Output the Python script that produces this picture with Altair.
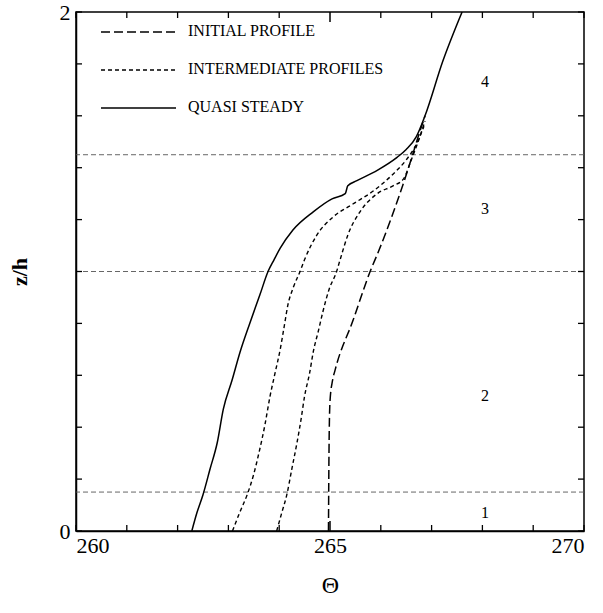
import altair as alt
import pandas as pd

# ---- data ----
quasi_theta = [262.28, 262.38, 262.50, 262.64, 262.78, 262.90, 263.07, 263.23, 263.42, 263.62,
               263.78, 263.90, 264.02, 264.27, 264.67, 265.04, 265.30, 265.35, 265.53, 265.93,
               266.32, 266.50, 266.70, 266.87, 267.22, 267.60]
quasi_z = [0.00, 0.07, 0.14, 0.24, 0.34, 0.47, 0.58, 0.69, 0.80, 0.91,
           1.00, 1.046, 1.09, 1.16, 1.23, 1.28, 1.30, 1.33, 1.35, 1.39,
           1.44, 1.47, 1.52, 1.60, 1.81, 2.00]

inter1_theta = [263.08, 263.22, 263.37, 263.50, 263.60, 263.72, 263.82, 263.92, 264.02, 264.10,
                264.17, 264.28, 264.41, 264.50, 264.74, 265.06, 265.45, 265.85, 266.24, 266.50,
                266.70, 266.85]
inter1_z = [0.00, 0.07, 0.14, 0.22, 0.30, 0.41, 0.52, 0.61, 0.70, 0.79,
            0.87, 0.94, 1.00, 1.046, 1.14, 1.21, 1.26, 1.31, 1.375, 1.43,
            1.49, 1.56]

inter2_theta = [263.95, 264.05, 264.15, 264.25, 264.35, 264.43, 264.50, 264.60, 264.67, 264.77,
                264.86, 264.98, 265.13, 265.20, 265.35, 265.59, 265.93, 266.24, 266.44, 266.60,
                266.77, 266.87]
inter2_z = [0.00, 0.07, 0.14, 0.24, 0.34, 0.43, 0.52, 0.61, 0.69, 0.77,
            0.845, 0.93, 1.00, 1.046, 1.14, 1.23, 1.30, 1.33, 1.355, 1.43,
            1.52, 1.58]

initial_theta = [264.97, 264.98, 265.00, 265.05, 265.10, 265.45, 265.79, 265.96, 266.48, 266.77, 266.87]
initial_z = [0.00, 0.30, 0.50, 0.58, 0.62, 0.81, 1.00, 1.08, 1.36, 1.54, 1.60]

layer_z = [0.15, 1.00, 1.45]
zone_labels = ["1", "2", "3", "4"]
zone_z = [0.07, 0.52, 1.24, 1.73]
zone_theta = [268.05, 268.05, 268.05, 268.05]

legend_labels = ["INITIAL PROFILE", "INTERMEDIATE PROFILES", "QUASI STEADY"]

x_ticks = [260, 261, 262, 263, 264, 265, 266, 267, 268, 269, 270]
y_ticks = [0, 0.2, 0.4, 0.6, 0.8, 1.0, 1.2, 1.4, 1.6, 1.8, 2.0]

W, H = 508, 519
FONT = "Liberation Serif"
AXFONT = "Liberation Serif, Times New Roman, serif"

# ---- helpers ----
XS = alt.Scale(domain=[260, 270], nice=False, zero=False)
YS = alt.Scale(domain=[0, 2], nice=False, zero=False)
XAX = alt.Axis(values=[260, 265, 270], format="d", title="Θ", ticks=False, grid=False,
               labelFontSize=22, labelFont=AXFONT, titleFont=AXFONT, titleFontSize=24,
               titleFontWeight="normal", labelPadding=4, titlePadding=17,
               domainColor="black", domainWidth=1.5, labelColor="black", titleColor="black")
YAX = alt.Axis(values=[0, 1, 2], format="d", title="z/h", ticks=False, grid=False,
               labelFontSize=22, labelFont=AXFONT, titleFont=AXFONT, titleFontSize=22,
               titleFontWeight="bold", labelPadding=6, titlePadding=28,
               domainColor="black", domainWidth=1.5, labelColor="black", titleColor="black")


def X(field="theta"):
    return alt.X(f"{field}:Q", scale=XS, axis=XAX)


def Y(field="z"):
    return alt.Y(f"{field}:Q", scale=YS, axis=YAX)


def curve(thetas, zs, dash, width=1.4):
    df = pd.DataFrame({"theta": thetas, "z": zs, "i": list(range(len(zs)))})
    mk = alt.Chart(df).mark_line(color="black", strokeWidth=width, clip=True,
                                 interpolate="monotone",
                                 **({"strokeDash": dash} if dash else {}))
    return mk.encode(x=X(), y=Y(), order="i:Q")


layers = []

# horizontal layer boundaries
layers.append(
    alt.Chart(pd.DataFrame({"z": layer_z})).mark_rule(
        color="#555555", strokeWidth=0.9, strokeDash=[5, 3]
    ).encode(y=Y())
)

# curves
layers.append(curve(initial_theta, initial_z, [9, 4], 1.5))
layers.append(curve(inter2_theta, inter2_z, [4, 3], 1.4))
layers.append(curve(inter1_theta, inter1_z, [4, 3], 1.4))
layers.append(curve(quasi_theta, quasi_z, None, 1.5))

# zone numbers
layers.append(
    alt.Chart(pd.DataFrame({"theta": zone_theta, "z": zone_z, "lab": zone_labels}))
    .mark_text(font=FONT, fontSize=16, color="black")
    .encode(x=X(), y=Y(), text="lab:N")
)

# inward ticks
xt = pd.DataFrame({"theta": x_ticks, "major": [1 if v == 265 else 0 for v in x_ticks]})
yt = pd.DataFrame({"z": y_ticks})
for y0, sign in [(H, -1), (0, 1)]:
    layers.append(
        alt.Chart(xt).transform_filter("datum.major == 0").mark_rule(color="black", strokeWidth=1.3)
        .encode(x=X(), y=alt.value(y0), y2=alt.value(y0 + sign * 6))
    )
    layers.append(
        alt.Chart(xt).transform_filter("datum.major == 1").mark_rule(color="black", strokeWidth=1.5)
        .encode(x=X(), y=alt.value(y0), y2=alt.value(y0 + sign * 10))
    )
for x0, sign in [(0, 1), (W, -1)]:
    layers.append(
        alt.Chart(yt).mark_rule(color="black", strokeWidth=1.3)
        .encode(y=Y(), x=alt.value(x0), x2=alt.value(x0 + sign * 6))
    )

# manual legend
legend_dash = [[9, 4], [4, 3], None]
for k, lab in enumerate(legend_labels):
    ypix = 20 + 38 * k
    kw = {"strokeDash": legend_dash[k]} if legend_dash[k] else {}
    layers.append(
        alt.Chart(pd.DataFrame({"lab": [lab]})).mark_rule(color="black", strokeWidth=1.4, **kw)
        .encode(x=alt.value(25), x2=alt.value(100), y=alt.value(ypix))
    )
    layers.append(
        alt.Chart(pd.DataFrame({"lab": [lab]})).mark_text(
            font=FONT, fontSize=16, color="black", align="left", baseline="middle"
        ).encode(x=alt.value(112), y=alt.value(ypix - 1), text="lab:N")
    )

chart = (
    alt.layer(*layers)
    .properties(
        width=W, height=H,
        autosize=alt.AutoSizeParams(type="none"),
        padding={"left": 76, "top": 12, "right": 19, "bottom": 82},
    )
    .configure(background="white", font=FONT)
    .configure_view(stroke="black", strokeWidth=1.5)
    .configure_axis(labelFont=AXFONT, titleFont=AXFONT)
    .configure_text(font=FONT)
)

chart.save("out.html", embed_options={"renderer": "svg", "actions": False})
